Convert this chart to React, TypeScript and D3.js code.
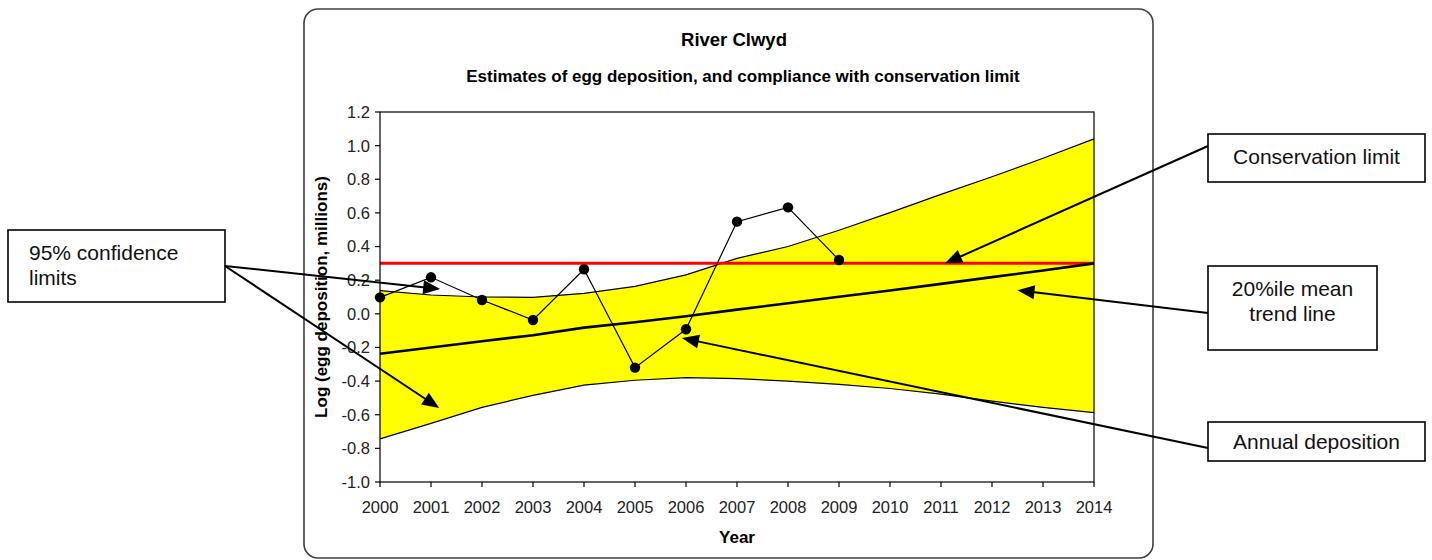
import React from 'react';
import * as d3 from 'd3';

// tick labels / categories
const years = [2000, 2001, 2002, 2003, 2004, 2005, 2006, 2007, 2008, 2009, 2010, 2011, 2012, 2013, 2014];
const yTicks = [-1.0, -0.8, -0.6, -0.4, -0.2, 0.0, 0.2, 0.4, 0.6, 0.8, 1.0, 1.2];

// 95% confidence limits (per year, 2000-2014)
const upperLimit = [0.138, 0.112, 0.1, 0.098, 0.122, 0.163, 0.232, 0.33, 0.4, 0.497, 0.602, 0.71, 0.815, 0.925, 1.04];
const lowerLimit = [-0.744, -0.651, -0.556, -0.485, -0.424, -0.395, -0.379, -0.385, -0.4, -0.42, -0.444, -0.478, -0.519, -0.556, -0.588];

// 20%ile mean trend line
const trendLine = [-0.237, -0.2, -0.163, -0.127, -0.082, -0.05, -0.014, 0.025, 0.063, 0.101, 0.139, 0.178, 0.218, 0.258, 0.3];

// annual deposition
const annualYears = [2000, 2001, 2002, 2003, 2004, 2005, 2006, 2007, 2008, 2009];
const annualDeposition = [0.098, 0.217, 0.082, -0.037, 0.265, -0.32, -0.092, 0.548, 0.633, 0.32];

const conservationLimit = 0.3;

const W = 1432;
const H = 560;
const plot = { left: 380, right: 1094, top: 112, bottom: 482 };
const font = "'Liberation Sans', Arial, Helvetica, sans-serif";

function Arrow({ x1, y1, x2, y2 }: { x1: number; y1: number; x2: number; y2: number }) {
  const a = Math.atan2(y2 - y1, x2 - x1);
  const len = 17;
  const hw = 7;
  const bx = x2 - len * Math.cos(a);
  const by = y2 - len * Math.sin(a);
  const pts = [
    [x2, y2],
    [bx + hw * Math.sin(a), by - hw * Math.cos(a)],
    [bx - hw * Math.sin(a), by + hw * Math.cos(a)],
  ];
  return (
    <g>
      <line x1={x1} y1={y1} x2={bx + 2 * Math.cos(a)} y2={by + 2 * Math.sin(a)} stroke="#000" strokeWidth={2} />
      <polygon points={pts.map(p => p.join(',')).join(' ')} fill="#000" />
    </g>
  );
}

function Box({ x, y, w, h, lines, tx, ty, anchor = 'middle' }: any) {
  return (
    <g>
      <rect x={x} y={y} width={w} height={h} fill="#fff" stroke="#000" strokeWidth={1.6} />
      {lines.map((l: string, i: number) => (
        <text key={i} x={tx} y={ty + i * 24.5} textAnchor={anchor} fontSize={21} fontFamily={font} fill="#111">
          {l}
        </text>
      ))}
    </g>
  );
}

export default function App() {
  const x = d3.scaleLinear().domain([2000, 2014]).range([plot.left, plot.right]);
  const y = d3.scaleLinear().domain([-1, 1.2]).range([plot.bottom, plot.top]);

  const band = d3.area<number>()
    .x((_, i) => x(years[i]))
    .y0((_, i) => y(lowerLimit[i]))
    .y1(d => y(d));
  const line = d3.line<number>().x((_, i) => x(years[i])).y(d => y(d));
  const annualLine = d3.line<number>().x((_, i) => x(annualYears[i])).y(d => y(d));

  const midX = (plot.left + plot.right) / 2;

  return (
    <svg width={W} height={H} style={{ position: 'absolute', left: 0, top: 0, background: '#fff' }}>
      <rect x={304} y={9} width={849} height={549} rx={14} fill="#fff" stroke="#404040" strokeWidth={1.6} />

      <text x={midX - 3} y={46} textAnchor="middle" fontSize={18.5} fontWeight="bold" fontFamily={font}>River Clwyd</text>
      <text x={midX + 6} y={82} textAnchor="middle" fontSize={17} fontWeight="bold" fontFamily={font}>
        Estimates of egg deposition, and compliance with conservation limit
      </text>

      <path d={band(upperLimit) || ''} fill="#ffff00" stroke="none" />
      <path d={line(upperLimit) || ''} fill="none" stroke="#000" strokeWidth={1.2} />
      <path d={line(lowerLimit) || ''} fill="none" stroke="#000" strokeWidth={1.2} />

      <line x1={x(2000)} x2={x(2014)} y1={y(conservationLimit)} y2={y(conservationLimit)} stroke="#ff0000" strokeWidth={3} />
      <path d={line(trendLine) || ''} fill="none" stroke="#000" strokeWidth={2.6} />

      <path d={annualLine(annualDeposition) || ''} fill="none" stroke="#000" strokeWidth={1.2} />
      {annualDeposition.map((d, i) => (
        <circle key={i} cx={x(annualYears[i])} cy={y(d)} r={5.2} fill="#000" />
      ))}

      <rect x={plot.left} y={plot.top} width={plot.right - plot.left} height={plot.bottom - plot.top} fill="none" stroke="#000" strokeWidth={1.2} />

      {yTicks.map(t => (
        <g key={t}>
          <line x1={plot.left - 5} x2={plot.left} y1={y(t)} y2={y(t)} stroke="#000" strokeWidth={1.2} />
          <text x={plot.left - 10} y={y(t)} dy="0.36em" textAnchor="end" fontSize={16.5} fontFamily={font} fill="#222">
            {t.toFixed(1)}
          </text>
        </g>
      ))}
      {years.map(t => (
        <g key={t}>
          <line x1={x(t)} x2={x(t)} y1={plot.bottom} y2={plot.bottom + 5} stroke="#000" strokeWidth={1.2} />
          <text x={x(t)} y={513} textAnchor="middle" fontSize={16.5} fontFamily={font} fill="#222">{t}</text>
        </g>
      ))}

      <text x={midX} y={543} textAnchor="middle" fontSize={17} fontWeight="bold" fontFamily={font}>Year</text>
      <text transform={`translate(327, ${(plot.top + plot.bottom) / 2}) rotate(-90)`} textAnchor="middle" fontSize={17} fontWeight="bold" fontFamily={font}>
        Log (egg deposition, millions)
      </text>

      {/* annotations */}
      <Box x={8} y={230} w={217} h={72} lines={['95% confidence', 'limits']} tx={29} ty={260} anchor="start" />
      <Arrow x1={225} y1={266} x2={x(2001.18)} y2={y(0.147)} />
      <Arrow x1={225} y1={266} x2={x(2001.16)} y2={y(-0.56)} />

      <Box x={1208} y={134} w={217} h={48} lines={['Conservation limit']} tx={1316.5} ty={164} />
      <Arrow x1={1208} y1={146} x2={x(2011.08)} y2={y(conservationLimit)} />

      <Box x={1208} y={266} w={169} h={84} lines={['20%ile mean', 'trend line']} tx={1292.5} ty={296} />
      <Arrow x1={1208} y1={313} x2={x(2012.5)} y2={y(0.14)} />

      <Box x={1208} y={422} w={217} h={39} lines={['Annual deposition']} tx={1316.5} ty={449} />
      <Arrow x1={1208} y1={448} x2={x(2005.92)} y2={y(-0.144)} />
    </svg>
  );
}
